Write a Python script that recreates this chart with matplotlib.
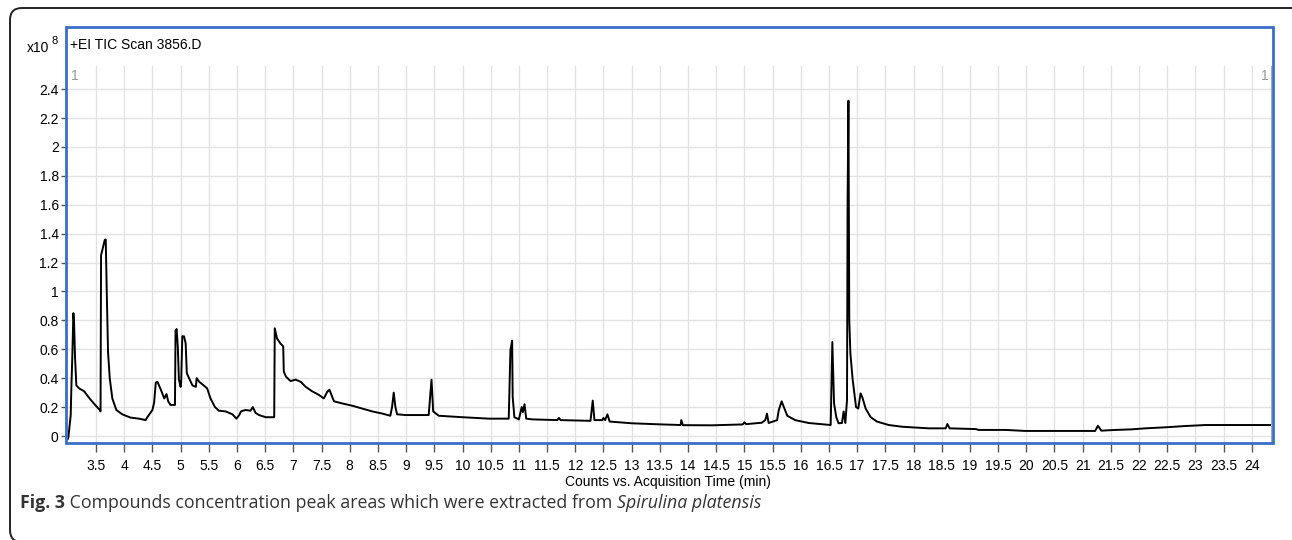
import matplotlib
matplotlib.use("Agg")
import matplotlib.pyplot as plt
from matplotlib.patches import Rectangle, FancyBboxPatch
from matplotlib.transforms import IdentityTransform
import numpy as np

W, H = 1292, 540

# TIC trace (time in min, counts in 1e8)
time_min = [
    3.000, 3.009, 3.051, 3.062, 3.080, 3.098, 3.110, 3.128, 3.151, 3.199,
    3.287, 3.406, 3.495, 3.566, 3.580, 3.589, 3.601, 3.629, 3.654, 3.672,
    3.690, 3.713, 3.743, 3.789, 3.860, 3.966, 4.115, 4.262, 4.380, 4.410,
    4.500, 4.530, 4.560, 4.590, 4.650, 4.710, 4.750, 4.780, 4.820, 4.900,
    4.910, 4.930, 4.950, 4.970, 5.000, 5.010, 5.030, 5.060, 5.090, 5.110,
    5.150, 5.210, 5.270, 5.285, 5.330, 5.410, 5.470, 5.530, 5.610, 5.680,
    5.800, 5.920, 5.990, 6.040, 6.070, 6.150, 6.240, 6.280, 6.330, 6.390,
    6.510, 6.660, 6.670, 6.710, 6.770, 6.820, 6.830, 6.870, 6.950, 7.040,
    7.130, 7.220, 7.330, 7.450, 7.540, 7.600, 7.640, 7.690, 7.720, 7.870,
    8.040, 8.220, 8.400, 8.580, 8.720, 8.750, 8.780, 8.810, 8.840, 8.990,
    9.400, 9.450, 9.480, 9.580, 10.00, 10.47, 10.82, 10.85, 10.88, 10.89,
    10.92, 11.00, 11.05, 11.07, 11.10, 11.13, 11.24, 11.68, 11.71, 11.74,
    12.27, 12.31, 12.34, 12.48, 12.50, 12.53, 12.57, 12.61, 13.00, 13.54,
    13.87, 13.88, 13.91, 14.43, 14.97, 15.00, 15.03, 15.31, 15.37, 15.40,
    15.43, 15.58, 15.61, 15.66, 15.70, 15.76, 15.90, 16.14, 16.53, 16.56,
    16.59, 16.63, 16.67, 16.73, 16.76, 16.79, 16.82, 16.83, 16.845, 16.86,
    16.88, 16.92, 16.98, 17.02, 17.06, 17.09, 17.15, 17.24, 17.35, 17.56,
    17.80, 18.27, 18.57, 18.60, 18.64, 19.10, 19.16, 19.63, 19.98, 21.22,
    21.27, 21.33, 21.58, 21.87, 22.11, 22.46, 22.82, 23.18, 23.89, 24.34,
]
counts_1e8 = [
    -0.020, -0.010, 0.145, 0.330, 0.560, 0.850, 0.790, 0.540, 0.350, 0.330,
    0.310, 0.250, 0.210, 0.180, 0.170, 1.250, 1.270, 1.320, 1.355, 1.360,
    1.000, 0.580, 0.400, 0.260, 0.180, 0.150, 0.127, 0.120, 0.110, 0.130,
    0.180, 0.230, 0.370, 0.375, 0.320, 0.260, 0.290, 0.240, 0.215, 0.215,
    0.730, 0.740, 0.620, 0.390, 0.340, 0.370, 0.690, 0.690, 0.640, 0.435,
    0.400, 0.350, 0.340, 0.400, 0.375, 0.350, 0.330, 0.260, 0.200, 0.175,
    0.170, 0.150, 0.120, 0.145, 0.170, 0.180, 0.175, 0.200, 0.160, 0.145,
    0.130, 0.130, 0.745, 0.675, 0.640, 0.620, 0.445, 0.410, 0.380, 0.390,
    0.375, 0.340, 0.310, 0.285, 0.260, 0.305, 0.320, 0.270, 0.240, 0.225,
    0.210, 0.190, 0.170, 0.155, 0.140, 0.200, 0.300, 0.200, 0.150, 0.145,
    0.145, 0.390, 0.170, 0.140, 0.130, 0.120, 0.120, 0.595, 0.660, 0.270,
    0.130, 0.115, 0.200, 0.165, 0.220, 0.120, 0.115, 0.110, 0.125, 0.110,
    0.105, 0.245, 0.110, 0.110, 0.125, 0.110, 0.150, 0.100, 0.088, 0.080,
    0.076, 0.110, 0.075, 0.074, 0.080, 0.095, 0.082, 0.092, 0.110, 0.155,
    0.090, 0.110, 0.180, 0.240, 0.200, 0.140, 0.110, 0.090, 0.076, 0.650,
    0.225, 0.130, 0.088, 0.090, 0.170, 0.090, 0.250, 1.610, 2.320, 0.800,
    0.570, 0.390, 0.200, 0.190, 0.295, 0.270, 0.190, 0.130, 0.100, 0.076,
    0.064, 0.053, 0.053, 0.083, 0.053, 0.048, 0.042, 0.042, 0.035, 0.035,
    0.071, 0.037, 0.042, 0.046, 0.053, 0.060, 0.069, 0.076, 0.076, 0.076,
]

x_tick_values = np.arange(3.5, 24.01, 0.5)
y_tick_values = np.arange(0, 2.41, 0.2)

NARROW = ['Liberation Sans Narrow', 'Liberation Sans', 'DejaVu Sans']
CAPTION = ['Open Sans', 'DejaVu Sans']
BLUE = '#3a6ec8'


def fx(px):
    return px / W


def fy(py):
    return 1 - py / H


fig = plt.figure(figsize=(W / 100, H / 100), dpi=100)

ax = fig.add_axes([fx(67), fy(442), fx(1271) - fx(67), fy(66) - fy(442)])
ax.plot(time_min, counts_1e8, color='black', lw=1.4, zorder=3)
ax.set_xlim(2.985, 24.34)
ax.set_ylim(-0.0415, 2.56)

ax.set_xticks(x_tick_values)
ax.set_xticklabels([f'{v:g}' for v in x_tick_values], family=NARROW, fontsize=10)
ax.set_yticks(y_tick_values)
ax.set_yticklabels([f'{round(v, 1):g}' for v in y_tick_values], family=NARROW, fontsize=10)
ax.grid(True, color='#e2e2e2', lw=1)
ax.set_axisbelow(True)
for s in ['top', 'left', 'bottom']:
    ax.spines[s].set_visible(False)
ax.spines['right'].set_color('#aaaaaa')
ax.tick_params(axis='x', length=7, width=1, color='#555555', pad=5, direction='out')
ax.tick_params(axis='y', length=4, width=1, color='#555555', pad=2, direction='out')

# blue frame round plot + title area
fig.patches.append(Rectangle((fx(66), fy(443)), fx(1273) - fx(66), fy(27) - fy(443),
                             transform=fig.transFigure, fill=False, ec=BLUE, lw=2.0, zorder=5))

# outer rounded box (cut by the right and bottom edges)
fig.patches.append(FancyBboxPatch((10, -2), 1310, H - 8 + 2, boxstyle='round,pad=0,rounding_size=12',
                                  transform=IdentityTransform(), fill=False, ec='#222222', lw=1.4, zorder=6))

fig.text(fx(27), fy(48), 'x10', family=NARROW, fontsize=10, va='center', ha='left')
fig.text(fx(51), fy(41), '8', family=NARROW, fontsize=8, va='center', ha='left')
fig.text(fx(70), fy(45), '+EI TIC Scan 3856.D', family=NARROW, fontsize=10, va='center', ha='left')
fig.text(fx(71), fy(76), '1', family=NARROW, fontsize=10, color='#999999', va='center', ha='left')
fig.text(fx(1269), fy(76), '1', family=NARROW, fontsize=10, color='#999999', va='center', ha='right')
fig.text(fx(668), fy(482), 'Counts vs. Acquisition Time (min)', family=NARROW, fontsize=10,
         va='center', ha='center')

# caption: bold / regular / italic pieces laid out one after the other
pieces = [('Fig. 3', 'bold', 'normal'),
          (' Compounds concentration peak areas which were extracted from ', 'normal', 'normal'),
          ('Spirulina platensis', 'normal', 'italic')]
renderer = fig.canvas.get_renderer()
x0 = 20
for txt, weight, style in pieces:
    t = fig.text(fx(x0), fy(503), txt, family=CAPTION, fontsize=12.8, weight=weight, style=style,
                 color='#333333', va='center', ha='left')
    x0 += t.get_window_extent(renderer).width

fig.savefig('out.png', dpi=100)
